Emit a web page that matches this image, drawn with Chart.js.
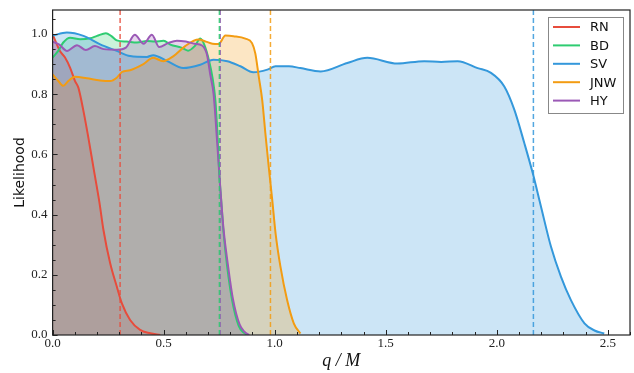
<!DOCTYPE html>
<html>
<head>
<meta charset="utf-8">
<script src="https://cdn.jsdelivr.net/npm/chart.js@4/dist/chart.umd.min.js"></script>
<style>
  html, body { margin: 0; padding: 0; background: #fff; }
  #chart { display: block; }
</style>
</head>
<body>
<canvas id="chart" width="634" height="373"></canvas>
<script>
// series names and colours
const names = ["RN", "BD", "SV", "JNW", "HY"];
const colors = ["#e74c3c", "#2ecc71", "#3498db", "#f39c12", "#9b59b6"];

// likelihood curves (q/M, likelihood)
const rnX = [0, 0.033, 0.056, 0.079, 0.101, 0.116, 0.139, 0.161, 0.184, 0.211, 0.229, 0.259, 0.289, 0.312, 0.349, 0.394, 0.44, 0.485];
const rnY = [0.999, 0.944, 0.922, 0.888, 0.844, 0.822, 0.744, 0.656, 0.556, 0.44, 0.349, 0.239, 0.161, 0.105, 0.05, 0.017, 0.006, 0.0];

const bdX = [0, 0.026, 0.048, 0.079, 0.124, 0.169, 0.2, 0.24, 0.265, 0.289, 0.334, 0.38, 0.425, 0.46, 0.5, 0.53, 0.58, 0.61, 0.64, 0.665, 0.683, 0.705, 0.72, 0.733, 0.742, 0.751, 0.759, 0.77, 0.786, 0.808, 0.838, 0.86, 0.878];
const bdY = [0.922, 0.945, 0.972, 0.988, 0.983, 0.986, 0.994, 1.003, 0.993, 0.979, 0.975, 0.972, 0.977, 0.975, 0.978, 0.965, 0.955, 0.945, 0.96, 0.985, 0.965, 0.91, 0.855, 0.78, 0.672, 0.53, 0.449, 0.339, 0.228, 0.117, 0.03, 0.008, 0.0];

const svX = [0, 0.064, 0.139, 0.214, 0.289, 0.349, 0.425, 0.453, 0.516, 0.588, 0.665, 0.724, 0.787, 0.846, 0.904, 0.967, 1.004, 1.064, 1.116, 1.207, 1.327, 1.417, 1.553, 1.673, 1.75, 1.824, 1.914, 1.974, 2.034, 2.079, 2.124, 2.162, 2.199, 2.244, 2.289, 2.334, 2.395, 2.44, 2.484];
const svY = [0.995, 1.005, 0.994, 0.966, 0.944, 0.927, 0.924, 0.93, 0.91, 0.887, 0.898, 0.915, 0.91, 0.893, 0.873, 0.882, 0.893, 0.893, 0.887, 0.876, 0.904, 0.921, 0.902, 0.91, 0.907, 0.91, 0.887, 0.871, 0.826, 0.749, 0.638, 0.538, 0.427, 0.294, 0.194, 0.116, 0.039, 0.015, 0.005];

const jnwX = [0, 0.026, 0.048, 0.071, 0.101, 0.154, 0.214, 0.259, 0.289, 0.312, 0.349, 0.409, 0.453, 0.498, 0.543, 0.597, 0.657, 0.69, 0.72, 0.748, 0.778, 0.815, 0.868, 0.898, 0.913, 0.928, 0.944, 0.958, 0.973, 0.989, 1.004, 1.026, 1.056, 1.086, 1.116];
const jnwY = [0.866, 0.844, 0.828, 0.844, 0.858, 0.853, 0.846, 0.844, 0.855, 0.874, 0.88, 0.9, 0.921, 0.91, 0.926, 0.96, 0.982, 0.975, 0.968, 0.967, 0.995, 0.993, 0.985, 0.97, 0.935, 0.86, 0.78, 0.671, 0.56, 0.449, 0.338, 0.227, 0.116, 0.039, 0.005];

const hyX = [0, 0.03, 0.065, 0.11, 0.15, 0.19, 0.23, 0.29, 0.33, 0.37, 0.41, 0.447, 0.48, 0.52, 0.56, 0.6, 0.64, 0.673, 0.695, 0.71, 0.725, 0.742, 0.755, 0.77, 0.79, 0.812, 0.842, 0.865, 0.885];
const hyY = [0.975, 0.965, 0.944, 0.963, 0.947, 0.96, 0.95, 0.948, 0.955, 0.998, 0.968, 0.998, 0.957, 0.97, 0.978, 0.975, 0.968, 0.962, 0.932, 0.865, 0.8, 0.63, 0.49, 0.35, 0.23, 0.12, 0.035, 0.01, 0.0];

// dashed vertical markers, one per series
const markers = [0.304, 0.751, 2.165, 0.981, 0.755];

// axis ranges and ticks
const xMin = 0, xMax = 2.6, xMajor = 0.5, xMinor = 0.1;
const yMin = 0, yMax = 1.08, yMajor = 0.2, yMinor = 0.05;

const seriesX = [rnX, bdX, svX, jnwX, hyX];
const seriesY = [rnY, bdY, svY, jnwY, hyY];

function alpha(hex, a) {
  const n = parseInt(hex.slice(1), 16);
  return `rgba(${(n >> 16) & 255}, ${(n >> 8) & 255}, ${n & 255}, ${a})`;
}

function isMajor(v, step) {
  return Math.abs(v / step - Math.round(v / step)) < 1e-6;
}

function makeTicks(min, max, step) {
  const out = [];
  const n = Math.round((max - min) / step);
  for (let i = 0; i <= n; i++) {
    const v = +(min + i * step).toFixed(4);
    if (v <= max + 1e-9) out.push({ value: v });
  }
  return out;
}

const datasets = [];
names.forEach((name, i) => {
  datasets.push({
    label: name,
    data: seriesX[i].map((x, k) => ({ x: x, y: seriesY[i][k] })),
    borderColor: colors[i],
    backgroundColor: alpha(colors[i], 0.25),
    borderWidth: 2,
    fill: 'origin',
    pointRadius: 0,
    cubicInterpolationMode: 'monotone',
    order: 10 - i
  });
});
names.forEach((name, i) => {
  datasets.push({
    label: '',
    data: [{ x: markers[i], y: yMin }, { x: markers[i], y: yMax }],
    borderColor: alpha(colors[i], 0.85),
    borderWidth: 1.5,
    borderDash: [5, 3],
    fill: false,
    pointRadius: 0,
    order: 0
  });
});

// inward tick marks, frame and legend box
const frame = {
  id: 'frame',
  afterDraw(chart) {
    const ctx = chart.ctx;
    const a = chart.chartArea;
    const xs = chart.scales.x, ys = chart.scales.y;
    ctx.save();
    ctx.strokeStyle = '#222';
    ctx.lineWidth = 1;
    xs.ticks.forEach(t => {
      const px = Math.round(xs.getPixelForValue(t.value)) + 0.5;
      const len = isMajor(t.value, xMajor) ? 5 : 3;
      ctx.beginPath();
      ctx.moveTo(px, a.bottom);
      ctx.lineTo(px, a.bottom - len);
      ctx.stroke();
    });
    ys.ticks.forEach(t => {
      const py = Math.round(ys.getPixelForValue(t.value)) + 0.5;
      const len = isMajor(t.value, yMajor) ? 5 : 3;
      ctx.beginPath();
      ctx.moveTo(a.left, py);
      ctx.lineTo(a.left + len, py);
      ctx.stroke();
    });
    ctx.lineWidth = 1.2;
    ctx.strokeRect(a.left, a.top, a.right - a.left, a.bottom - a.top);

    // legend
    const items = chart.data.datasets.filter(d => d.label);
    const w = 75, rowH = 18.4;
    const h = items.length * rowH + 4;
    const bx = a.right - 7 - w, by = a.top + 7;
    ctx.fillStyle = '#fff';
    ctx.fillRect(bx, by, w, h);
    ctx.strokeStyle = '#888';
    ctx.lineWidth = 1;
    ctx.strokeRect(Math.round(bx) + 0.5, Math.round(by) + 0.5, w, h);
    ctx.font = '13px "DejaVu Sans"';
    ctx.textBaseline = 'middle';
    ctx.textAlign = 'left';
    items.forEach((d, k) => {
      const y = by + 10 + k * rowH;
      ctx.strokeStyle = d.borderColor;
      ctx.lineWidth = 2;
      ctx.beginPath();
      ctx.moveTo(bx + 5, y);
      ctx.lineTo(bx + 32, y);
      ctx.stroke();
      ctx.fillStyle = '#111';
      ctx.fillText(d.label, bx + 42, y + 1);
    });
    ctx.restore();
  }
};

new Chart(document.getElementById('chart'), {
  type: 'line',
  data: { datasets: datasets },
  options: {
    responsive: false,
    animation: false,
    devicePixelRatio: 1,
    layout: { padding: { top: 10, right: 4, left: 0, bottom: 0 } },
    plugins: {
      legend: { display: false },
      tooltip: { enabled: false },
      filler: { drawTime: 'beforeDatasetsDraw' }
    },
    scales: {
      x: {
        type: 'linear',
        min: xMin,
        max: xMax,
        grid: { display: false, drawTicks: false },
        border: { display: false },
        afterBuildTicks: s => { s.ticks = makeTicks(xMin, xMax, xMinor); },
        afterFit: s => { s.height = 38; s.paddingLeft = 0; s.paddingRight = 0; },
        ticks: {
          autoSkip: false,
          maxRotation: 0,
          padding: 1,
          color: '#222',
          font: { family: '"Liberation Serif", serif', size: 13 },
          callback: v => isMajor(v, xMajor) ? v.toFixed(1) : ''
        },
        title: {
          display: true,
          text: 'q / M',
          color: '#111',
          padding: { top: 0, bottom: 1 },
          font: { family: '"Liberation Serif", serif', size: 18, style: 'italic' }
        }
      },
      y: {
        type: 'linear',
        min: yMin,
        max: yMax,
        grid: { display: false, drawTicks: false },
        border: { display: false },
        afterBuildTicks: s => { s.ticks = makeTicks(yMin, 1.05, yMinor); },
        afterFit: s => { s.width = 52.6; s.paddingTop = 0; s.paddingBottom = 0; },
        ticks: {
          autoSkip: false,
          padding: 5,
          color: '#222',
          font: { family: '"Liberation Serif", serif', size: 13 },
          callback: v => isMajor(v, yMajor) ? v.toFixed(1) : ''
        },
        title: {
          display: true,
          text: 'Likelihood',
          color: '#111',
          padding: { top: 11.6, bottom: 0 },
          font: { family: '"DejaVu Sans", sans-serif', size: 14 }
        }
      }
    }
  },
  plugins: [frame]
});
</script>
</body>
</html>
